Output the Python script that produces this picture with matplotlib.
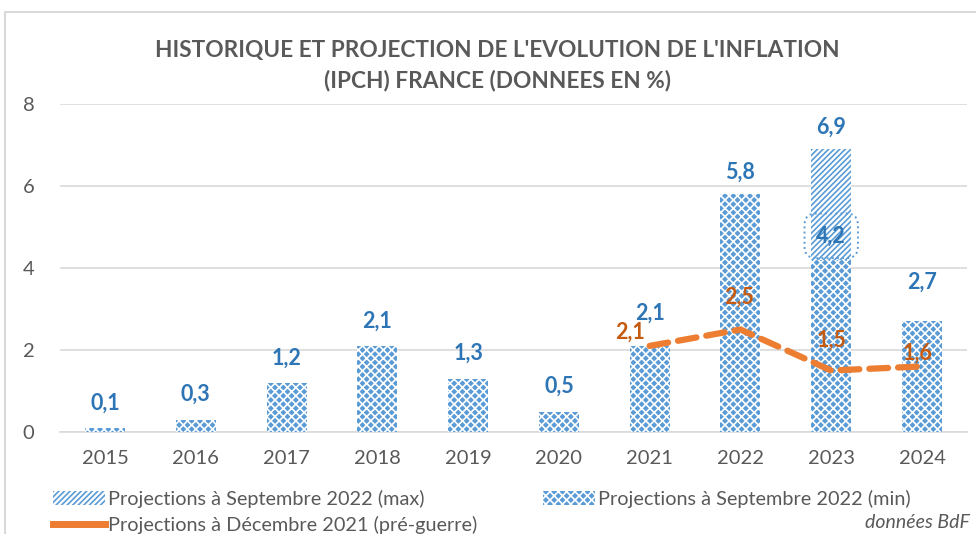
import matplotlib
matplotlib.use("Agg")
import matplotlib.pyplot as plt
from matplotlib.patches import Patch, Rectangle
from matplotlib.lines import Line2D

plt.rcParams['font.family'] = ['Lato', 'DejaVu Sans']
plt.rcParams['hatch.linewidth'] = 1.2

# ---- data ----
years = ['2015', '2016', '2017', '2018', '2019', '2020', '2021', '2022', '2023', '2024']
sept_min = [0.1, 0.3, 1.2, 2.1, 1.3, 0.5, 2.1, 5.8, 4.2, 2.7]
sept_max_year = '2023'
sept_max_value = 6.9
dec_years = ['2021', '2022', '2023', '2024']
dec_values = [2.1, 2.5, 1.5, 1.6]
min_labels = ['0,1', '0,3', '1,2', '2,1', '1,3', '0,5', '2,1', '5,8', '4,2', '2,7']
max_label = '6,9'
dec_labels = ['2,1', '2,5', '1,5', '1,6']

title = "HISTORIQUE ET PROJECTION DE L'EVOLUTION DE L'INFLATION\n(IPCH) FRANCE (DONNEES EN %)"
leg_max = 'Projections à Septembre 2022 (max)'
leg_min = 'Projections à Septembre 2022 (min)'
leg_dec = 'Projections à Décembre 2021 (pré-guerre)'
source = 'données BdF'

# ---- styles ----
BLUE = '#5B9BD5'
BLUE_TXT = '#2E75B6'
ORANGE = '#ED7D31'
ORANGE_TXT = '#C55A11'
GRAY_TXT = '#595959'
GRID = '#D9D9D9'

fig = plt.figure(figsize=(9.76, 5.34), dpi=100)
W, H = 976, 534
ax = fig.add_axes([59.6 / W, 102 / H, (967.4 - 59.6) / W, (432 - 104) / H])

x = list(range(len(years)))
xi = {y: i for i, y in enumerate(years)}
bw = 0.44

# max bar (behind)
ax.bar(xi[sept_max_year], sept_max_value, width=bw, facecolor='white',
       edgecolor=BLUE, linewidth=0, hatch='//////', zorder=2)
# min bars
ax.bar(x, sept_min, width=bw, facecolor=BLUE, edgecolor='white',
       linewidth=0, hatch='xxxx', zorder=3)

# orange dashed line
dx = [xi[y] for y in dec_years]
ax.plot(dx, dec_values, color=ORANGE, lw=4.5, linestyle=(0, (3, 1.6)),
        solid_capstyle='round', dash_capstyle='round', zorder=4)

PX = 0.72  # px -> pt
LBL = 15.5
min_off = [25, 25, 25, 25, 25, 25, 33, 22, 24, 39]
for i, (v, lab, off) in enumerate(zip(sept_min, min_labels, min_off)):
    kw = {}
    if years[i] == sept_max_year:
        kw['bbox'] = dict(boxstyle='round,pad=0.55', facecolor='none',
                          edgecolor=BLUE, linestyle=':', linewidth=1.4)
    ax.annotate(lab, (i, v), xytext=(0, off * PX), textcoords='offset points',
                ha='center', va='center', fontsize=LBL, fontweight='bold',
                color=BLUE_TXT, zorder=6, **kw)
ax.annotate(max_label, (xi[sept_max_year], sept_max_value), xytext=(0, 22 * PX),
            textcoords='offset points', ha='center', va='center', fontsize=LBL,
            fontweight='bold', color=BLUE_TXT, zorder=6)

dec_off = [(-20, 14), (-1, 32), (0, 30), (-4, 13)]
for xx, v, lab, (ox, oy) in zip(dx, dec_values, dec_labels, dec_off):
    ax.annotate(lab, (xx, v), xytext=(ox * PX, oy * PX), textcoords='offset points',
                ha='center', va='center', fontsize=LBL, fontweight='bold',
                color=ORANGE_TXT, zorder=6)

ax.set_xlim(-0.5, len(years) - 0.5)
ax.set_ylim(0, 8)
ax.set_yticks([0, 2, 4, 6, 8])
ax.set_xticks(x)
ax.set_xticklabels(years)
ax.tick_params(axis='both', length=0, labelsize=14.5, colors=GRAY_TXT)
ax.tick_params(axis='y', pad=18)
ax.tick_params(axis='x', pad=13)
ax.grid(axis='y', color=GRID, lw=1.2, zorder=0)
ax.set_axisbelow(True)
for s in ['top', 'right', 'left']:
    ax.spines[s].set_visible(False)
ax.spines['bottom'].set_color(GRID)
ax.spines['bottom'].set_linewidth(1.2)

fig.text(497 / W, 1 - 66 / H, title, ha='center', va='center', fontsize=16.3,
         fontweight='bold', color=GRAY_TXT, linespacing=1.5)

# outer chart frame
fig.patches.append(Rectangle((5 / W, -0.05), 1.2, 1 - 12 / H + 0.05,
                             transform=fig.transFigure, fill=False,
                             edgecolor=GRID, lw=1.5))

handles = [Patch(facecolor='white', edgecolor=BLUE, hatch='//////', lw=0),
           Line2D([0], [0], color=ORANGE, lw=5),
           Patch(facecolor=BLUE, edgecolor='white', hatch='xxxx', lw=0)]
labels = [leg_max, leg_dec, leg_min]
leg = fig.legend(handles, labels, ncol=2, loc='upper left',
                 bbox_to_anchor=(43 / W, 1 - 480 / H), frameon=False,
                 fontsize=14.3, handlelength=2.6, handleheight=0.75,
                 handletextpad=0.15, columnspacing=3.35, labelspacing=0.38,
                 labelcolor=GRAY_TXT, borderpad=0)

fig.text(970 / W, 1 - 522 / H, source, ha='right', va='center', fontsize=14,
         style='italic', color=GRAY_TXT)

fig.savefig('out.png', dpi=100)
